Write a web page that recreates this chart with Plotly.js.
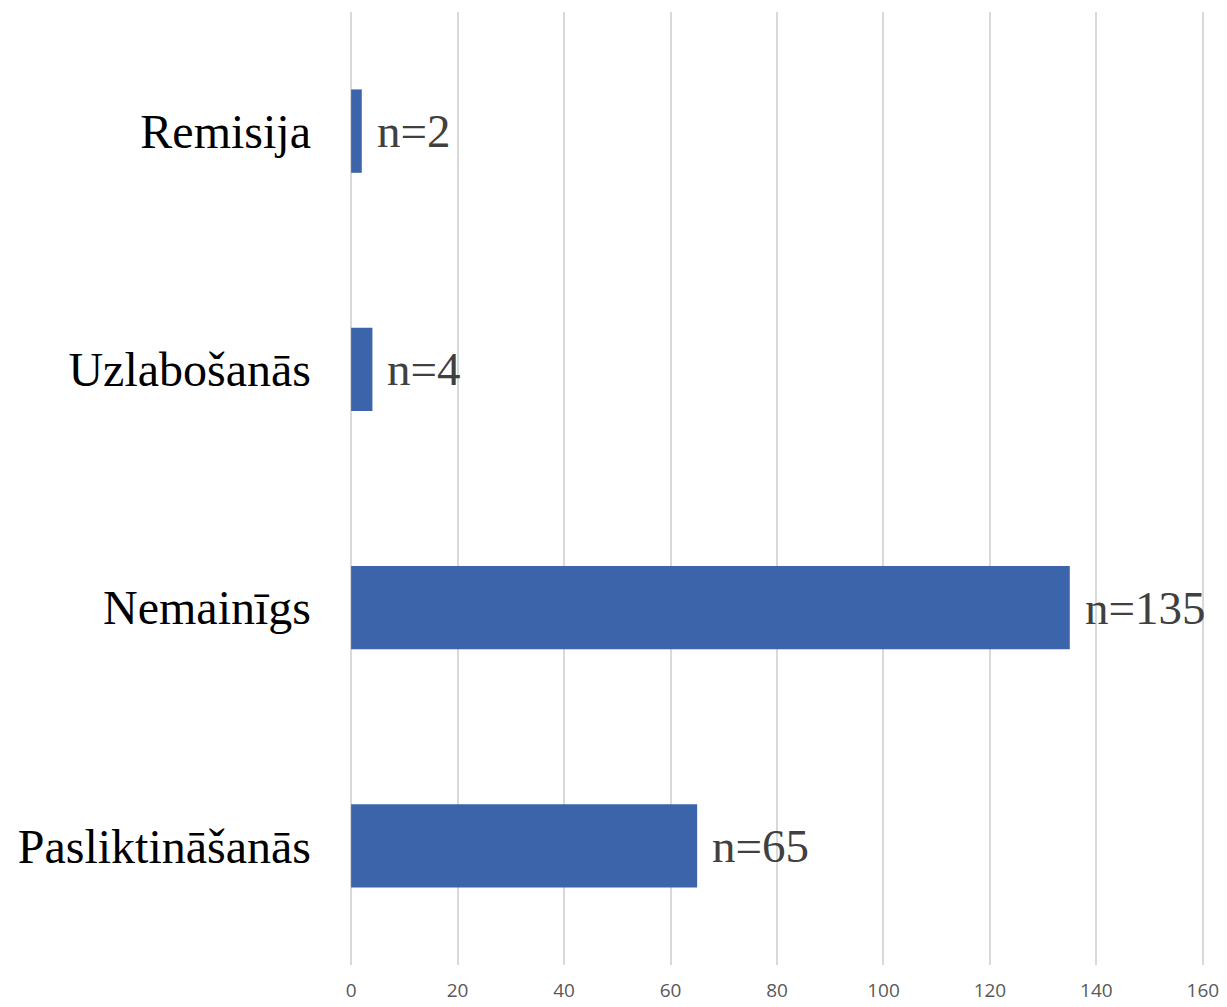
<!DOCTYPE html>
<html>
<head>
<meta charset="utf-8">
<script src="https://cdn.plot.ly/plotly-3.0.1.min.js"></script>
<style>html,body{margin:0;padding:0;background:#fff;}#chart{width:1227px;height:1007px;}</style>
</head>
<body>
<div id="chart"></div>
<script>
const categories = ["Remisija", "Uzlabošanās", "Nemainīgs", "Pasliktināšanās"];
const counts = [2, 4, 135, 65];
const tickValues = [0, 20, 40, 60, 80, 100, 120, 140, 160];

const trace = {
  type: "bar",
  orientation: "h",
  x: counts,
  y: categories,
  marker: {color: "#3C64AB"},
  width: 0.35,
  hoverinfo: "x+y"
};

const annotations = categories.map((c, i) => ({
  x: counts[i],
  y: c,
  xref: "x",
  yref: "y",
  text: "n=" + counts[i],
  showarrow: false,
  xanchor: "left",
  yanchor: "middle",
  xshift: 13,
  font: {family: "Liberation Serif, Times New Roman, serif", size: 47, color: "#404040"}
}));

const layout = {
  width: 1227,
  height: 1007,
  margin: {l: 349, r: 22, t: 12, b: 42},
  paper_bgcolor: "#ffffff",
  plot_bgcolor: "#ffffff",
  showlegend: false,
  xaxis: {
    range: [-0.4, 160.4],
    tickvals: tickValues,
    ticktext: tickValues.map(String),
    showgrid: true,
    gridcolor: "#d9d9d9",
    gridwidth: 2,
    zeroline: false,
    showline: false,
    ticks: "",
    tickfont: {family: "Open Sans, sans-serif", size: 19, color: "#595959"},
    ticklabelstandoff: 12
  },
  yaxis: {
    type: "category",
    categoryorder: "array",
    categoryarray: categories,
    autorange: "reversed",
    showgrid: false,
    zeroline: false,
    showline: false,
    ticks: "",
    tickfont: {family: "Liberation Serif, Times New Roman, serif", size: 48, color: "#000000"},
    ticklabelstandoff: 37
  },
  annotations: annotations
};

Plotly.newPlot("chart", [trace], layout, {displayModeBar: false, staticPlot: true});
</script>
</body>
</html>
